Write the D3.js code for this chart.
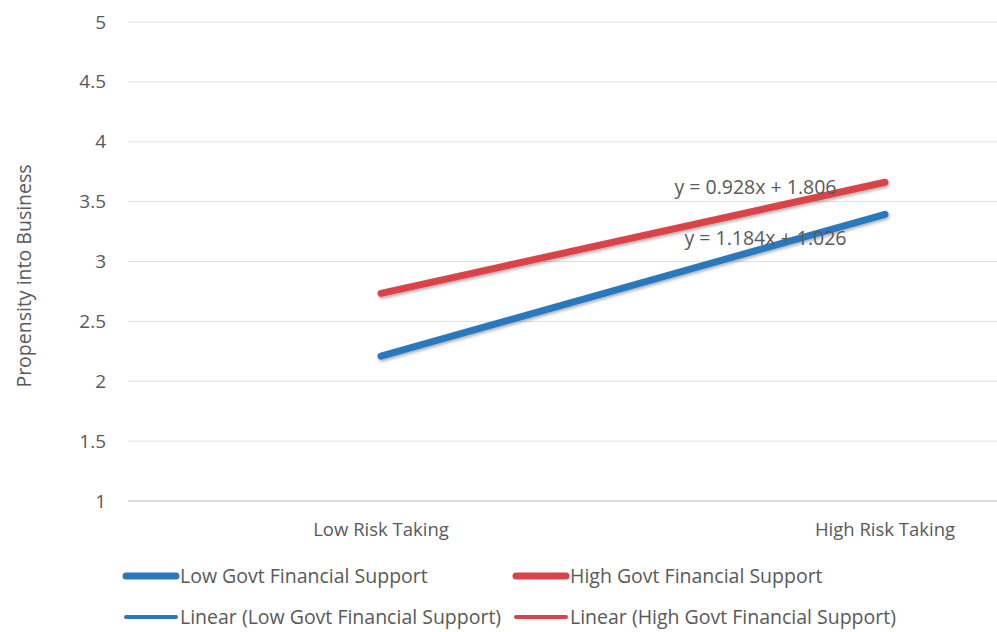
<!DOCTYPE html>
<html><head><meta charset="utf-8">
<script src="https://cdn.jsdelivr.net/npm/d3@7"></script>
<style>body{margin:0;background:#fff}svg{display:block}text{font-family:"Open Sans",sans-serif;fill:#595959}</style>
</head><body><svg id="c" width="997" height="632"></svg>
<script>
const categories = ["Low Risk Taking", "High Risk Taking"];
const lowSupport = [2.21, 3.394];
const highSupport = [2.734, 3.662];
const yTicks = [1, 1.5, 2, 2.5, 3, 3.5, 4, 4.5, 5];
const lowTrend = {slope: 1.184, intercept: 1.026, label: "y = 1.184x + 1.026"};
const highTrend = {slope: 0.928, intercept: 1.806, label: "y = 0.928x + 1.806"};
const seriesNames = ["Low Govt Financial Support", "High Govt Financial Support",
  "Linear (Low Govt Financial Support)", "Linear (High Govt Financial Support)"];
const blue = "#2A79BE", red = "#DA4449";

const svg = d3.select("#c");
const defs = svg.append("defs");
const f = defs.append("filter").attr("id","sh").attr("x","-10%").attr("y","-50%").attr("width","120%").attr("height","200%");
f.append("feDropShadow").attr("dx",1).attr("dy",2).attr("stdDeviation",1.5).attr("flood-color","#000").attr("flood-opacity",0.3);

const left = 129, right = 1137;
const x = d3.scaleBand().domain(categories).range([left, right]);
const y = d3.scaleLinear().domain([1, 5]).range([501, 22]);
const cx = c => x(c) + x.bandwidth() / 2;

// gridlines
svg.append("g").selectAll("line").data(yTicks).join("line")
  .attr("x1", 128).attr("x2", 997).attr("y1", d => y(d)).attr("y2", d => y(d))
  .attr("stroke", d => d === 1 ? "#d0d0d0" : "#e0e0e0").attr("stroke-width", d => d === 1 ? 1.5 : 1);

// y axis labels
const yAxis = d3.axisLeft(y).tickValues(yTicks).tickSize(0).tickPadding(0).tickFormat(d3.format("~g"));
const ga = svg.append("g").attr("transform", "translate(106,0)").call(yAxis);
ga.select(".domain").remove();
ga.attr("font-size", null).attr("font-family", null);
ga.selectAll("text").style("font-size", "19px").attr("fill", "#595959");

svg.append("text").attr("transform", "translate(31,276) rotate(-90)").attr("text-anchor", "middle")
  .style("font-size", "19.5px").text("Propensity into Business");

// x axis labels
const xAxis = d3.axisBottom(x).tickSize(0).tickPadding(0);
const gx = svg.append("g").attr("transform", "translate(0,523)").call(xAxis);
gx.select(".domain").remove();
gx.attr("font-size", null).attr("font-family", null);
gx.selectAll("text").style("font-size", "18.5px").attr("fill", "#595959");

const line = d3.line().x((d, i) => cx(categories[i])).y(d => y(d));
const trend = t => categories.map((c, i) => t.slope * (i + 1) + t.intercept);

svg.append("path").datum(lowSupport).attr("d", line).attr("fill", "none").attr("stroke", blue)
  .attr("stroke-width", 7).attr("stroke-linecap", "round").attr("filter", "url(#sh)");
svg.append("path").datum(highSupport).attr("d", line).attr("fill", "none").attr("stroke", red)
  .attr("stroke-width", 7).attr("stroke-linecap", "round").attr("filter", "url(#sh)");
svg.append("path").datum(trend(lowTrend)).attr("d", line).attr("fill", "none").attr("stroke", blue)
  .attr("stroke-width", 3).attr("stroke-linecap", "round");
svg.append("path").datum(trend(highTrend)).attr("d", line).attr("fill", "none").attr("stroke", red)
  .attr("stroke-width", 3).attr("stroke-linecap", "round");

svg.append("text").attr("x", 755.5).attr("y", 194).attr("text-anchor", "middle").style("font-size", "19.5px").text(highTrend.label);
svg.append("text").attr("x", 765.5).attr("y", 245).attr("text-anchor", "middle").style("font-size", "19.5px").text(lowTrend.label);

// legend
const leg = [
  {name: seriesNames[0], color: blue, w: 7, x: 126, y: 576},
  {name: seriesNames[1], color: red, w: 7, x: 516, y: 576},
  {name: seriesNames[2], color: blue, w: 4, x: 126, y: 617},
  {name: seriesNames[3], color: red, w: 4, x: 516, y: 617}
];
const lg = svg.append("g").selectAll("g").data(leg).join("g").attr("transform", d => `translate(${d.x},${d.y})`);
lg.append("line").attr("x1", 0).attr("x2", 50).attr("stroke", d => d.color).attr("stroke-width", d => d.w).attr("stroke-linecap", "round");
lg.append("text").attr("x", 54).attr("dy", "0.35em").style("font-size", "19.5px").text(d => d.name);
</script></body></html>
